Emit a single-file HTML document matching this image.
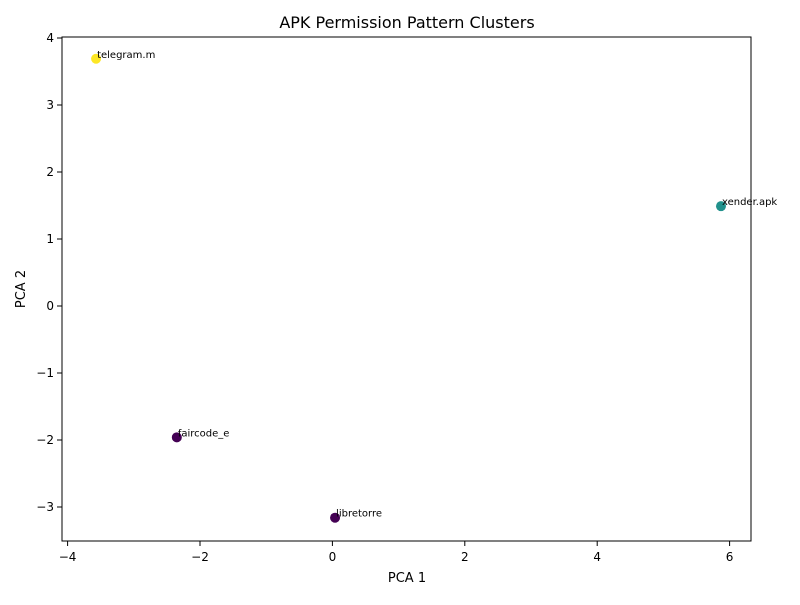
<!DOCTYPE html>
<html><head><meta charset="utf-8"><style>body{margin:0;background:#fff}svg text{font-family:"DejaVu Sans","Liberation Sans",sans-serif}</style></head>
<body>
<svg id="chart" width="800" height="600">
<rect width="800" height="600" fill="#fff"/>
<text x="407" y="28" font-size="16" text-anchor="middle">APK Permission Pattern Clusters</text>
<g id="plot"></g>
<rect x="62" y="37" width="689" height="504" fill="none" stroke="#000" stroke-width="1"/>
<text x="407" y="582" font-size="13" text-anchor="middle">PCA 1</text>
<text x="25" y="289" font-size="13" text-anchor="middle" transform="rotate(-90 25 289)">PCA 2</text>
</svg>
<script>
const labels=["telegram.m","xender.apk","faircode_e","libretorre"];
const xs=[-3.57,5.87,-2.35,0.04];
const ys=[3.69,1.49,-1.96,-3.16];
const clusters=[2,1,0,0];
const xTicks=[-4,-2,0,2,4,6];
const yTicks=[-3,-2,-1,0,1,2,3,4];
const palette=["#440154","#21918c","#fde725"];
function sx(v){return 332.4+v*66.2;}
function sy(v){return 306-v*67;}
const ns="http://www.w3.org/2000/svg";
const g=document.getElementById("plot");
function mk(t,a){const e=document.createElementNS(ns,t);for(const k in a)e.setAttribute(k,a[k]);g.appendChild(e);return e;}
xTicks.forEach(v=>{
 const l=mk("line",{x1:sx(v),x2:sx(v),y1:541,y2:546,stroke:"#000"});
 
 
 const t=mk("text",{x:sx(v),y:561,"font-size":12,"text-anchor":"middle"});
 t.textContent=v<0?"\u2212"+(-v):v;
 
 
});
yTicks.forEach(v=>{
 const l=mk("line",{x1:57,x2:62,y1:sy(v),y2:sy(v),stroke:"#000"});
 
 
 const t=mk("text",{x:54,y:sy(v)+4,"font-size":12,"text-anchor":"end"});
 t.textContent=v<0?"\u2212"+(-v):v;
 
 
});
xs.forEach((x,i)=>{
 const c=mk("circle",{cx:sx(x),cy:sy(ys[i]),r:5,fill:palette[clusters[i]]});
 
 
 const t=mk("text",{x:sx(x)+1,y:sy(ys[i])-1,"font-size":10});
 t.textContent=labels[i];
 
 
});
</script>
</body></html>
